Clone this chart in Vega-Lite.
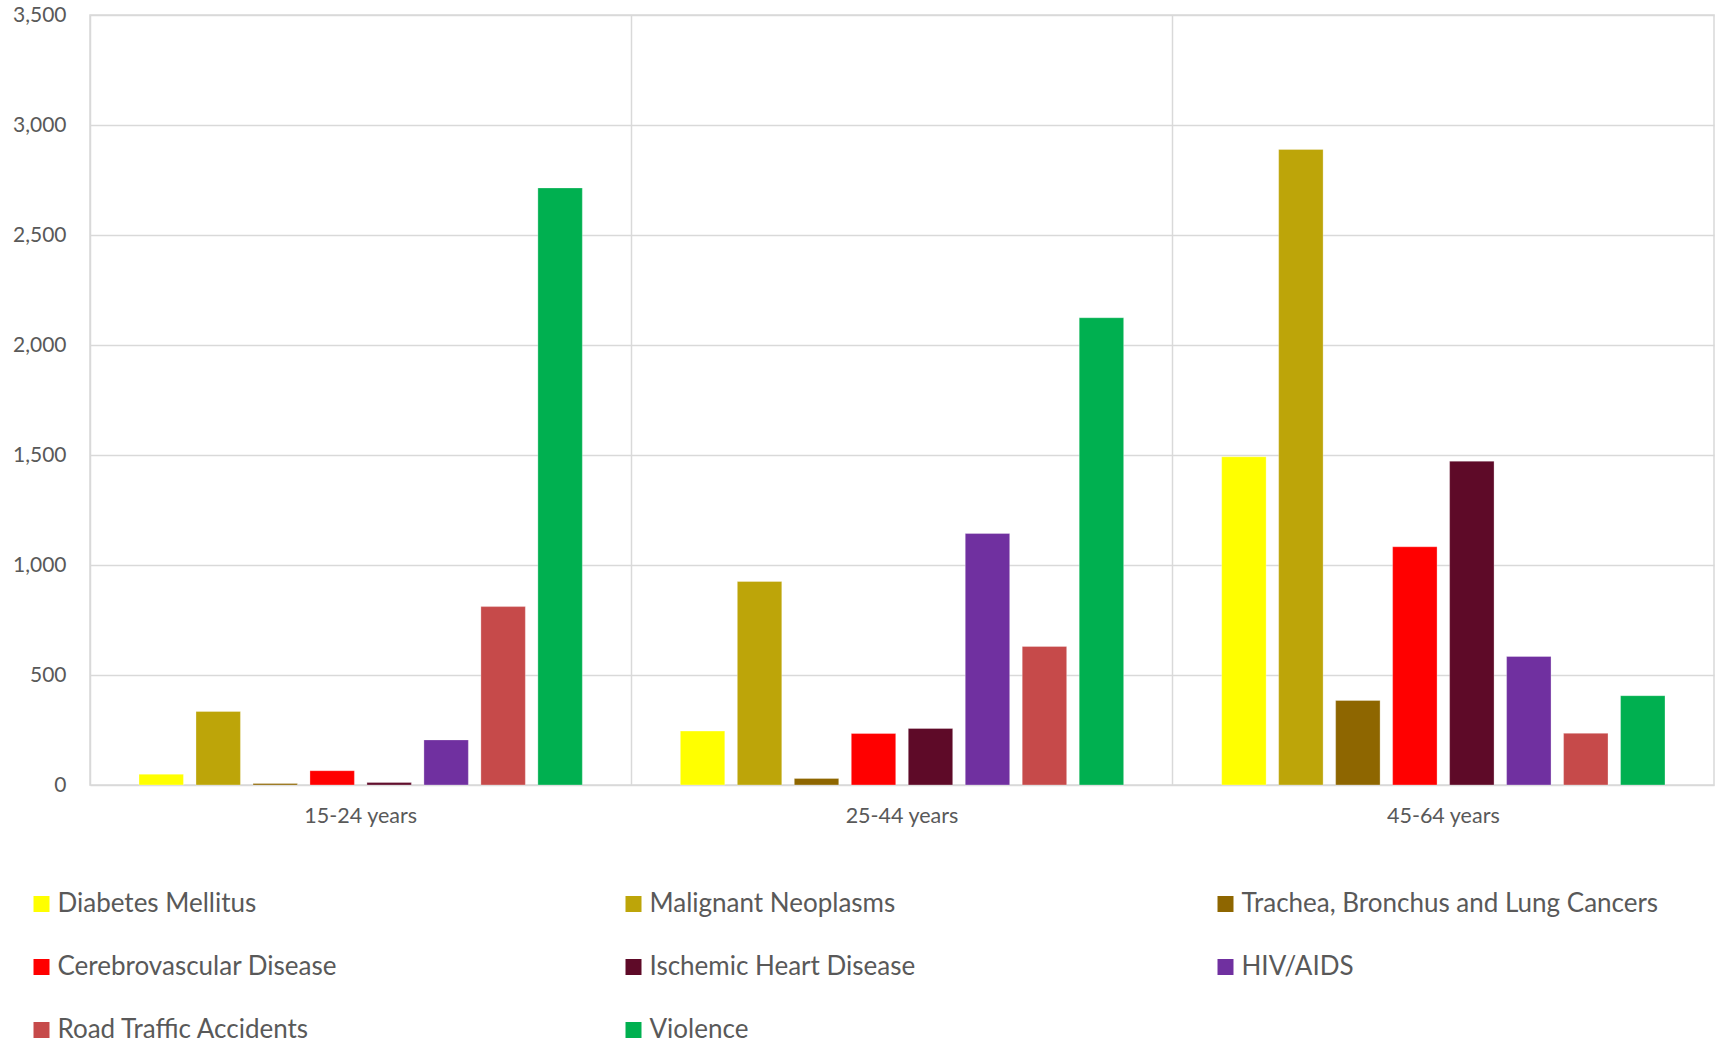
{
  "$schema": "https://vega.github.io/schema/vega-lite/v6.json",
  "autosize": {"type": "none"},
  "width": 1624,
  "height": 770,
  "padding": {"left": 90, "top": 15, "right": 5, "bottom": 259},
  "background": "white",
  "config": {
    "font": "Lato",
    "view": {"stroke": "#d9d9d9", "strokeWidth": 1.5},
    "axis": {"labelFont": "Lato", "labelColor": "#595959"}
  },
  "data": {
    "values": [
      {"age": "15-24 years", "cause": "Diabetes Mellitus", "deaths": 49},
      {"age": "15-24 years", "cause": "Malignant Neoplasms", "deaths": 334},
      {"age": "15-24 years", "cause": "Trachea, Bronchus and Lung Cancers", "deaths": 7},
      {"age": "15-24 years", "cause": "Cerebrovascular Disease", "deaths": 65},
      {"age": "15-24 years", "cause": "Ischemic Heart Disease", "deaths": 11},
      {"age": "15-24 years", "cause": "HIV/AIDS", "deaths": 205},
      {"age": "15-24 years", "cause": "Road Traffic Accidents", "deaths": 811},
      {"age": "15-24 years", "cause": "Violence", "deaths": 2714},
      {"age": "25-44 years", "cause": "Diabetes Mellitus", "deaths": 245},
      {"age": "25-44 years", "cause": "Malignant Neoplasms", "deaths": 925},
      {"age": "25-44 years", "cause": "Trachea, Bronchus and Lung Cancers", "deaths": 30},
      {"age": "25-44 years", "cause": "Cerebrovascular Disease", "deaths": 234},
      {"age": "25-44 years", "cause": "Ischemic Heart Disease", "deaths": 257},
      {"age": "25-44 years", "cause": "HIV/AIDS", "deaths": 1143},
      {"age": "25-44 years", "cause": "Road Traffic Accidents", "deaths": 630},
      {"age": "25-44 years", "cause": "Violence", "deaths": 2124},
      {"age": "45-64 years", "cause": "Diabetes Mellitus", "deaths": 1492},
      {"age": "45-64 years", "cause": "Malignant Neoplasms", "deaths": 2889},
      {"age": "45-64 years", "cause": "Trachea, Bronchus and Lung Cancers", "deaths": 384},
      {"age": "45-64 years", "cause": "Cerebrovascular Disease", "deaths": 1083},
      {"age": "45-64 years", "cause": "Ischemic Heart Disease", "deaths": 1472},
      {"age": "45-64 years", "cause": "HIV/AIDS", "deaths": 584},
      {"age": "45-64 years", "cause": "Road Traffic Accidents", "deaths": 235},
      {"age": "45-64 years", "cause": "Violence", "deaths": 406}
    ]
  },
  "mark": {"type": "bar", "stroke": "white", "strokeWidth": 0.5, "strokeOpacity": 0.6},
  "encoding": {
    "x": {
      "field": "age",
      "type": "nominal",
      "scale": {"paddingInner": 0, "paddingOuter": 0},
      "axis": {
        "title": null,
        "labelAngle": 0,
        "labelFontSize": 21.5,
        "labelPadding": 20,
        "bandPosition": 0,
        "ticks": false,
        "domain": false,
        "grid": true,
        "gridColor": "#d9d9d9",
        "gridWidth": 1.5
      }
    },
    "xOffset": {
      "field": "cause",
      "type": "nominal",
      "sort": ["Diabetes Mellitus", "Malignant Neoplasms", "Trachea, Bronchus and Lung Cancers", "Cerebrovascular Disease", "Ischemic Heart Disease", "HIV/AIDS", "Road Traffic Accidents", "Violence"],
      "scale": {"paddingInner": 0.22, "paddingOuter": 0.86}
    },
    "y": {
      "field": "deaths",
      "type": "quantitative",
      "scale": {"domain": [0, 3500], "nice": false},
      "axis": {
        "title": null,
        "values": [0, 500, 1000, 1500, 2000, 2500, 3000, 3500],
        "format": ",.0f",
        "labelFontSize": 21,
        "labelPadding": 24,
        "ticks": false,
        "domain": false,
        "gridColor": "#d9d9d9",
        "gridWidth": 1.5
      }
    },
    "color": {
      "field": "cause",
      "type": "nominal",
      "sort": ["Diabetes Mellitus", "Malignant Neoplasms", "Trachea, Bronchus and Lung Cancers", "Cerebrovascular Disease", "Ischemic Heart Disease", "HIV/AIDS", "Road Traffic Accidents", "Violence"],
      "scale": {
        "domain": ["Diabetes Mellitus", "Malignant Neoplasms", "Trachea, Bronchus and Lung Cancers", "Cerebrovascular Disease", "Ischemic Heart Disease", "HIV/AIDS", "Road Traffic Accidents", "Violence"],
        "range": ["#ffff00", "#bda509", "#8e6600", "#ff0000", "#5e0a28", "#7030a0", "#c64a4a", "#00b050"]
      },
      "legend": {
        "title": null,
        "orient": "none",
        "direction": "horizontal",
        "legendX": -61.5,
        "legendY": 876,
        "columns": 3,
        "gridAlign": "all",
        "columnPadding": 146,
        "rowPadding": 37,
        "symbolType": "square",
        "symbolSize": 256,
        "symbolStrokeWidth": 0,
        "symbolOffset": 0,
        "labelFontSize": 26,
        "labelColor": "#595959",
        "labelFont": "Lato",
        "labelOffset": 3,
        "labelLimit": 600
      }
    }
  }
}
